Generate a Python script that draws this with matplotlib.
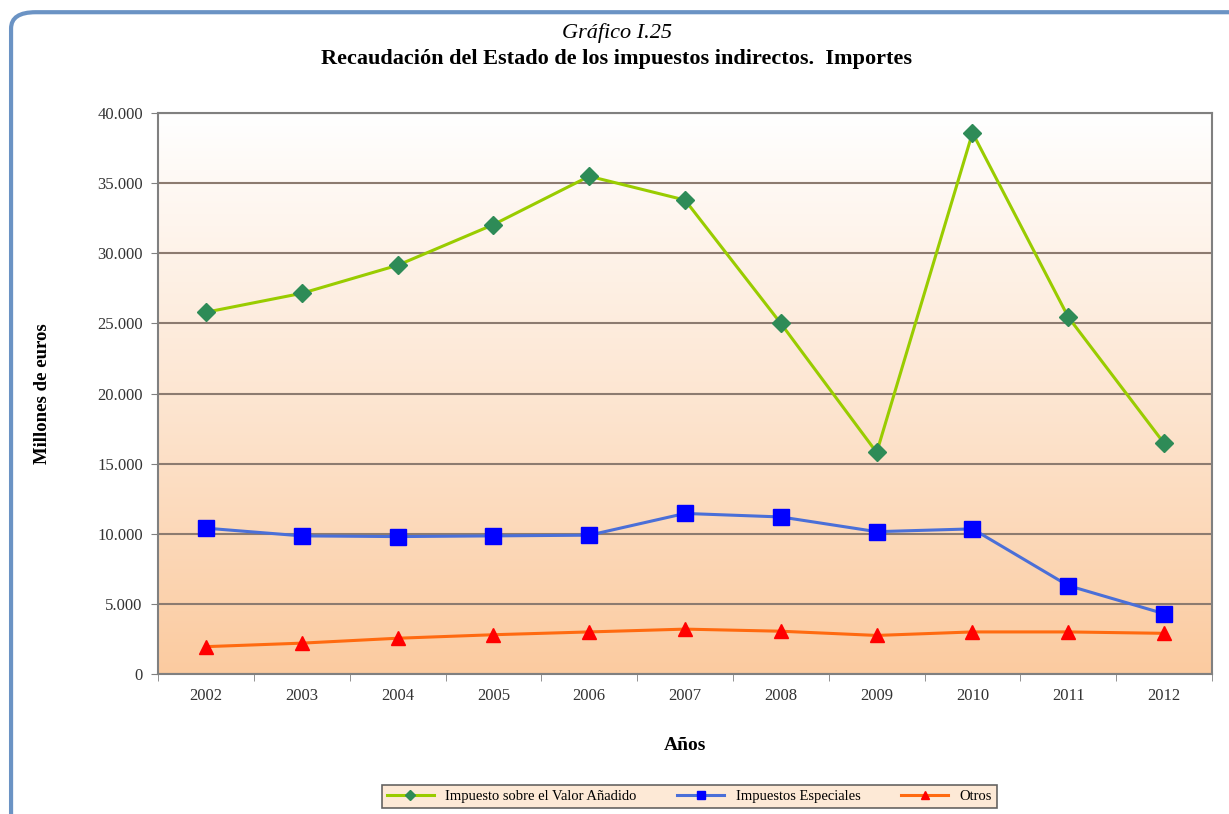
import numpy as np
import matplotlib
matplotlib.use("Agg")
from matplotlib import pyplot as plt
from matplotlib.patches import FancyBboxPatch
from matplotlib.colors import LinearSegmentedColormap

plt.rcParams['font.family'] = ['Liberation Serif', 'DejaVu Serif']

years = ["2002", "2003", "2004", "2005", "2006", "2007", "2008", "2009", "2010", "2011", "2012"]
iva = [25800, 27150, 29150, 32050, 35500, 33800, 25000, 15800, 38600, 25450, 16450]
especiales = [10400, 9850, 9800, 9850, 9900, 11450, 11200, 10150, 10350, 6300, 4300]
otros = [1950, 2200, 2550, 2800, 3000, 3200, 3050, 2750, 3000, 3000, 2900]

fig = plt.figure(figsize=(12.29, 8.14), dpi=100)

# rounded frame around the chart
frame = FancyBboxPatch((0.009, -0.05), 1.05, 1.035, boxstyle="round,pad=0,rounding_size=0.02",
                       transform=fig.transFigure, facecolor="white", edgecolor="#6b93c4",
                       linewidth=3, zorder=-5)
fig.patches.append(frame)

ax = fig.add_axes([0.1286, 0.172, 0.8576, 0.689])
x = np.arange(len(years))

# white-to-peach background gradient
cmap = LinearSegmentedColormap.from_list("bg", ["#fbcba0", "#fde6d2", "#ffffff"])
grad = np.linspace(0, 1, 256).reshape(-1, 1)
ax.imshow(grad, extent=[-0.5, 10.5, 0, 40000], origin="lower", aspect="auto",
          cmap=cmap, zorder=0)

ax.plot(x, iva, color="#99cc00", lw=2.2, marker="D", ms=9, mfc="#2e8b57", mec="#2e8b57",
        label="Impuesto sobre el Valor Añadido", zorder=3)
ax.plot(x, especiales, color="#4a6fd8", lw=2.2, marker="s", ms=11, mfc="#0000ff", mec="#0000ff",
        label="Impuestos Especiales", zorder=3)
ax.plot(x, otros, color="#ff6a10", lw=2.2, marker="^", ms=10, mfc="#ff0000", mec="#ff0000",
        label="Otros", zorder=3)

ax.set_xlim(-0.5, 10.5)
ax.set_ylim(0, 40000)
ax.set_yticks(np.arange(0, 40001, 5000))
ax.set_yticklabels(["0" if v == 0 else f"{v // 1000}.000" for v in range(0, 40001, 5000)])
ax.set_xticks(x)
ax.set_xticklabels(years)
ax.set_xticks(np.arange(-0.5, 11, 1), minor=True)
ax.tick_params(axis="x", which="major", length=0, pad=10, labelsize=12, labelcolor="#333333")
ax.tick_params(axis="x", which="minor", length=5, color="#808080")
ax.tick_params(axis="y", length=5, color="#808080", labelsize=12, pad=6, labelcolor="#333333")
ax.yaxis.grid(True, color="#8c7b70", lw=1.5, zorder=1)
ax.set_axisbelow(True)
for s in ax.spines.values():
    s.set_color("#808080")
    s.set_linewidth(1.5)

ax.set_ylabel("Millones de euros", fontweight="bold", fontsize=13.5, labelpad=33)
ax.set_xlabel("Años", fontweight="bold", fontsize=14, labelpad=24)

fig.text(0.502, 0.960, "Gráfico I.25", ha="center", va="center", style="italic", fontsize=16)
fig.text(0.502, 0.928, "Recaudación del Estado de los impuestos indirectos.  Importes",
         ha="center", va="center", fontweight="bold", fontsize=16)

leg = fig.legend(loc="center", bbox_to_anchor=(0.561, 0.0215), ncol=3, fontsize=10.5,
                 frameon=True, fancybox=False, markerscale=0.55, handlelength=3.2,
                 columnspacing=2.8, borderpad=0.35)
leg.get_frame().set_facecolor("#fde4cc")
leg.get_frame().set_edgecolor("#404040")
leg.get_frame().set_linewidth(1.2)

plt.savefig("out.png", dpi=100)
